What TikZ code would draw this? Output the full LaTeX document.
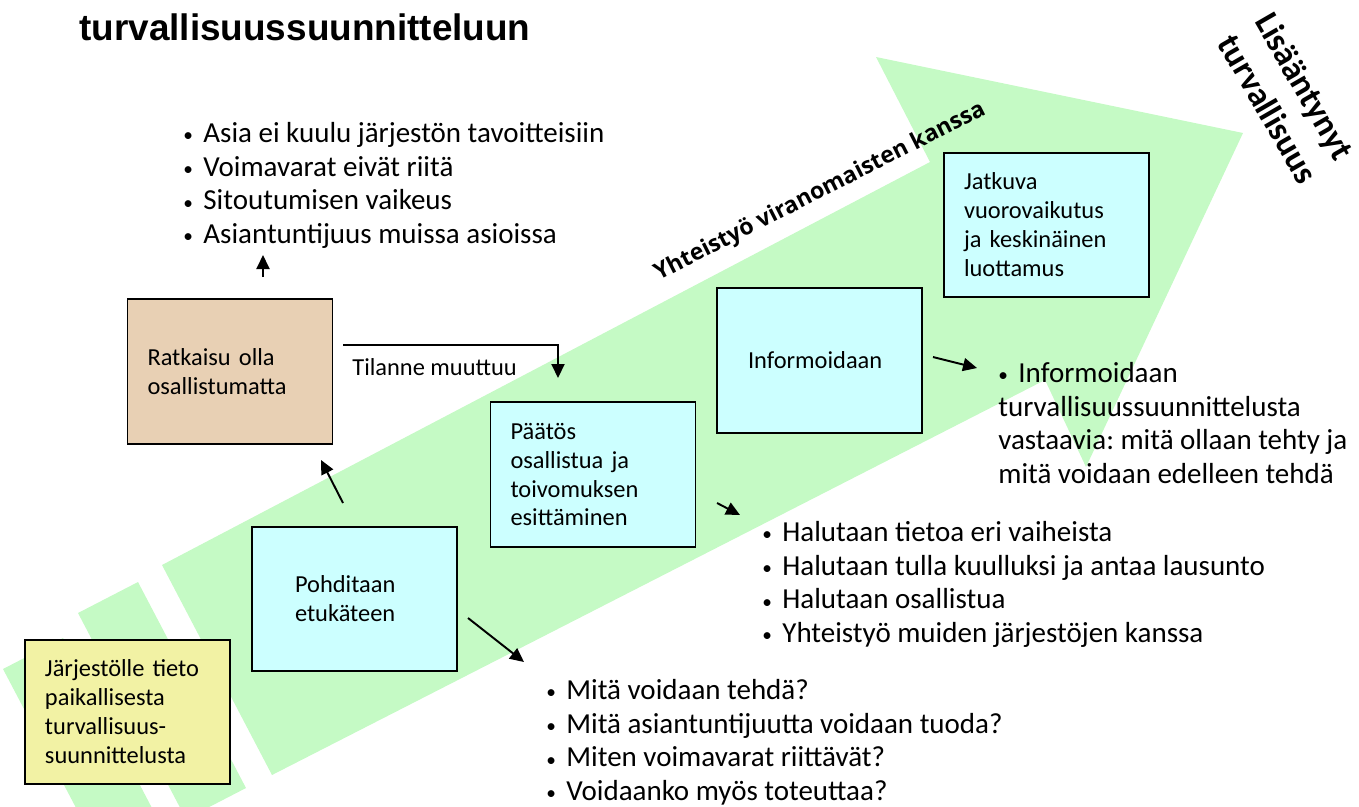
\documentclass[tikz,border=0pt]{standalone}
\usepackage{fontspec}
\setmainfont{Carlito}
\newfontfamily\titlefont{Liberation Sans}
\newfontfamily\sidefont{Open Sans}
\usetikzlibrary{arrows.meta}
\definecolor{bandgreen}{RGB}{197,250,197}
\definecolor{stepcyan}{RGB}{204,255,255}
\definecolor{stepyellow}{RGB}{242,242,164}
\definecolor{steptan}{RGB}{232,208,180}
\newcommand\dotmark{\makebox[11.4pt][l]{\raisebox{0.3pt}{\fontsize{11pt}{11pt}\selectfont •}}}
\frenchspacing

\begin{document}
\begin{tikzpicture}[x=0.2mm,y=-0.2mm,>={Triangle[length=2.8mm,width=2.6mm]},
    stepbox/.style={draw=black,line width=1.1pt,minimum width=41mm,minimum height=28.9mm,
        text width=33mm,inner xsep=4mm,inner ysep=0pt,align=left,
        font=\fontsize{13.9pt}{16.5pt}\selectfont},
    bullets/.style={anchor=north west,inner sep=0pt,align=left,
        font=\fontsize{16.5pt}{19.1pt}\selectfont},
    pointer/.style={->,line width=1.1pt}]
    \useasboundingbox (0,0) rectangle (1359,806);

    % Green band with two stripes at its tail
    \begin{scope}
        \clip (0,0) rectangle (1359,806);
        \fill[bandgreen] (3,669) -- (63,638) -- (164,831) -- (104,861) -- cycle;
        \fill[bandgreen] (78,613) -- (138,582) -- (246,788) -- (186,819) -- cycle;
        \fill[bandgreen] (162,565) -- (930,162) -- (876,57) -- (1243,133)
            -- (1086,467) -- (1045,380) -- (272,775) -- cycle;
    \end{scope}

    % Title (second line)
    \node[anchor=base west,inner sep=0pt,font=\titlefont\bfseries\fontsize{21pt}{24pt}\selectfont]
        (title) at (79,40) {turvallisuussuunnitteluun};

    % Steps
    \node[stepbox,fill=stepyellow] (notice) at (127.5,712)
        {Järjestölle tieto\\paikallisesta\\turvallisuus-\\suunnittelusta};
    \node[stepbox,fill=stepcyan,text width=23.8mm,inner xsep=8.6mm] (ponder) at (354.5,599)
        {Pohditaan\\etukäteen};
    \node[stepbox,fill=steptan] (decline) at (230,371.5)
        {Ratkaisu olla\\osallistumatta};
    \node[stepbox,fill=stepcyan] (decision) at (593,474.5)
        {Päätös\\osallistua ja\\toivomuksen\\esittäminen};
    \node[stepbox,fill=stepcyan,text width=28.6mm,inner xsep=6.2mm] (inform) at (819.5,360.5)
        {Informoidaan};
    \node[stepbox,fill=stepcyan] (trust) at (1046.5,225)
        {Jatkuva\\vuorovaikutus\\ja keskinäinen\\luottamus};

    % Bullet lists
    \node[bullets] (reasons) at (183,122)
        {\dotmark Asia ei kuulu järjestön tavoitteisiin\\\dotmark Voimavarat eivät riitä\\
         \dotmark Sitoutumisen vaikeus\\\dotmark Asiantuntijuus muissa asioissa};
    \node[bullets] (wishes) at (762,521)
        {\dotmark Halutaan tietoa eri vaiheista\\\dotmark Halutaan tulla kuulluksi ja antaa lausunto\\
         \dotmark Halutaan osallistua\\\dotmark Yhteistyö muiden järjestöjen kanssa};
    \node[bullets] (questions) at (546,679)
        {\dotmark Mitä voidaan tehdä?\\\dotmark Mitä asiantuntijuutta voidaan tuoda?\\
         \dotmark Miten voimavarat riittävät?\\\dotmark Voidaanko myös toteuttaa?};
    \node[bullets] (informing) at (998,362)
        {\dotmark Informoidaan\\turvallisuussuunnittelusta\\vastaavia: mitä ollaan tehty ja\\mitä voidaan edelleen tehdä};

    % Labels on the band
    \node[rotate=27,font=\sidefont\bfseries\fontsize{13.1pt}{15pt}\selectfont]
        (authorities) at (820,192) {Yhteistyö viranomaisten kanssa};
    \node[rotate=-60,align=left,inner sep=0pt,font=\bfseries\fontsize{19.5pt}{24.5pt}\selectfont]
        (outcome) at (1287,98) {Lisääntynyt\\turvallisuus};
    \node[anchor=base west,inner sep=0pt,font=\fontsize{13.9pt}{16.5pt}\selectfont]
        (change) at (352,375) {Tilanne muuttuu};

    % Arrow ends
    \coordinate (declineOut) at (263,277);
    \coordinate (reasonsIn) at (263,255);
    \coordinate (ponderUp) at (343,503);
    \coordinate (declineIn) at (321,460);
    \coordinate (changeOut) at (343,345);
    \coordinate (decisionIn) at (558,378);
    \coordinate (ponderOut) at (468,618);
    \coordinate (questionsIn) at (524,662);
    \coordinate (decisionOut) at (717,503);
    \coordinate (wishesIn) at (740,515);
    \coordinate (informOut) at (933,357);
    \coordinate (informingIn) at (977,368);

    % Arrows
    \draw[pointer] (declineOut) -- (reasonsIn);
    \draw[pointer] (ponderUp) -- (declineIn);
    \draw[pointer] (changeOut) -| (decisionIn);
    \draw[pointer] (ponderOut) -- (questionsIn);
    \draw[pointer] (decisionOut) -- (wishesIn);
    \draw[pointer] (informOut) -- (informingIn);
\end{tikzpicture}
\end{document}
